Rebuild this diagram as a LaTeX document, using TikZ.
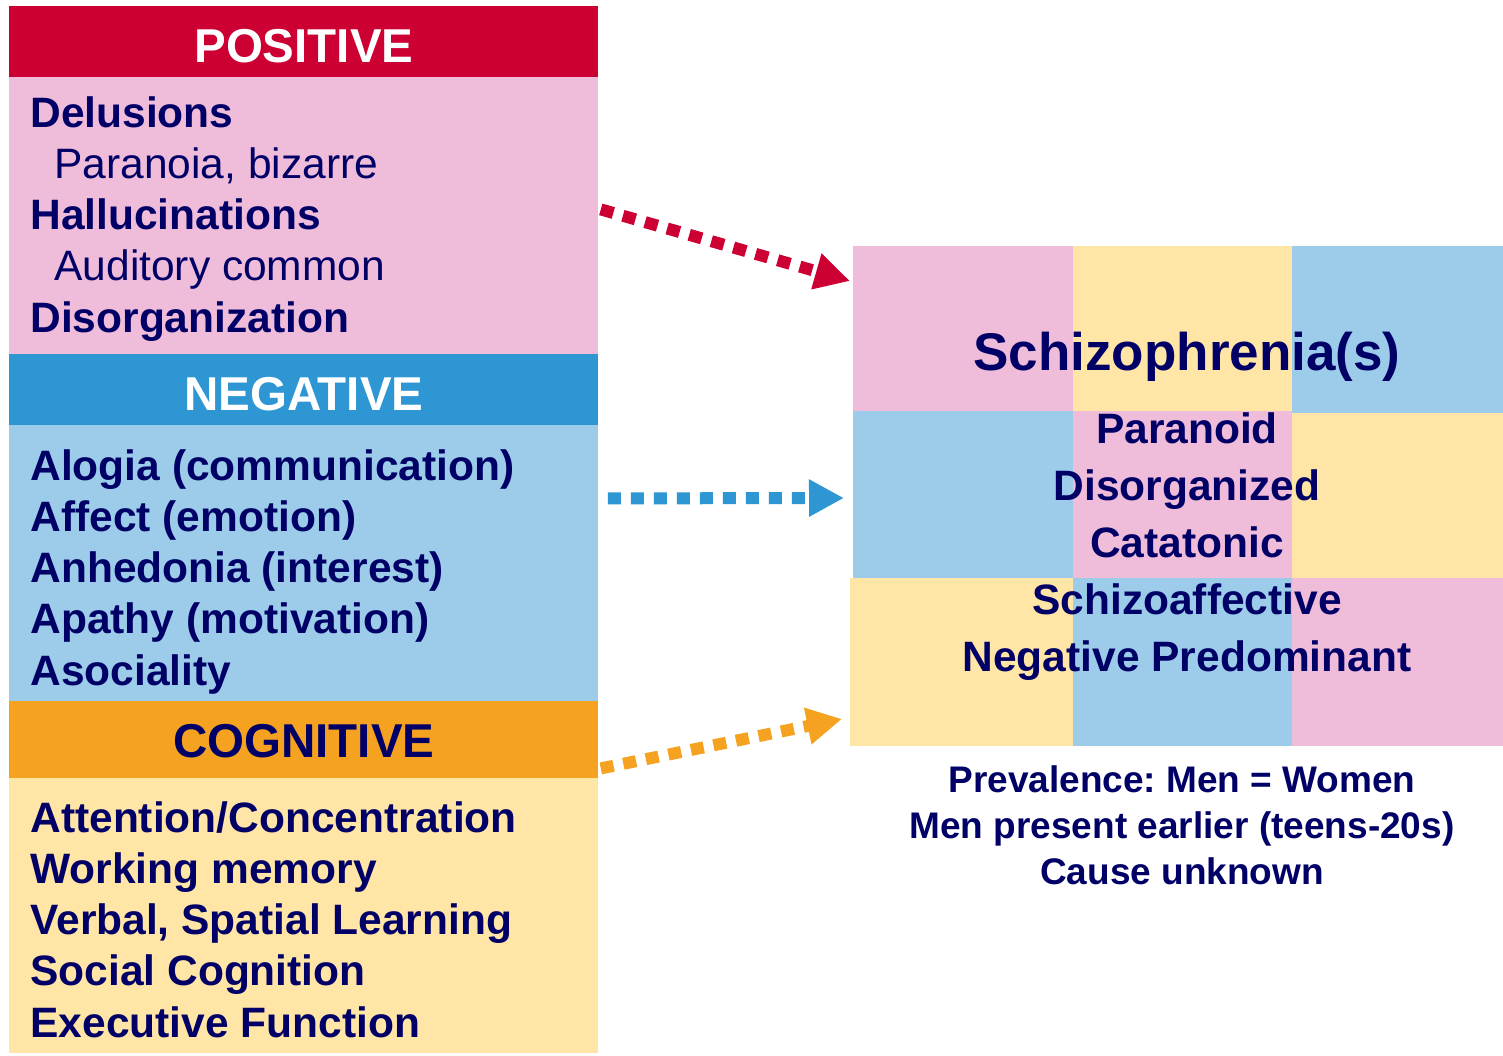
\documentclass[tikz,border=0pt]{standalone}
\usepackage{fontspec}
\setmainfont{Liberation Sans}
\usetikzlibrary{arrows.meta}
\definecolor{hdrred}{HTML}{CC0033}
\definecolor{lpink}{HTML}{EFBCD9}
\definecolor{hdrblue}{HTML}{2D96D3}
\definecolor{lblue}{HTML}{9CCCE9}
\definecolor{hdrorange}{HTML}{F5A221}
\definecolor{lcream}{HTML}{FFE5A6}
\definecolor{navy}{HTML}{000066}
\frenchspacing
\begin{document}
\begin{tikzpicture}[x=0.5pt,y=-0.5pt,every node/.style={font=\bfseries,text=navy,inner sep=0pt},
  band/.style={minimum width=294.5pt,anchor=north west},
  hdr/.style={band,font=\fontsize{23.75}{28}\selectfont\bfseries,text height=28.25pt},
  cell/.style={anchor=north west},
  item/.style={anchor=base west,align=left,font=\fontsize{21.25}{25.6}\selectfont\bfseries},
  dots/.style={line width=6pt,dash pattern=on 6.5pt off 5pt,-{Triangle[length=17.5pt,width=17.5pt]}}]
\useasboundingbox[fill=white] (0,0) rectangle (1503,1055);
% symptom groups
\node[band,fill=lpink,minimum height=138.5pt] (posbody) at (9,77) {};
\node[band,fill=lblue,minimum height=138.5pt] (negbody) at (9,425) {};
\node[band,fill=lcream,minimum height=137.5pt] (cogbody) at (9,778) {};
\node[hdr,fill=hdrred,text=white,text depth=7.25pt] (poshead) at (9,6) {POSITIVE};
\node[hdr,fill=hdrblue,text=white,text depth=7.25pt] (neghead) at (9,354) {NEGATIVE};
\node[hdr,fill=hdrorange,text depth=10.25pt] (coghead) at (9,701) {COGNITIVE};
% lists sit on the baseline of their last line
\node[item] (poslist) at (30,332) {Delusions\\\hspace*{12pt}{\mdseries Paranoia, bizarre}\\Hallucinations\\\hspace*{12pt}{\mdseries Auditory common}\\Disorganization};
\node[item] (neglist) at (30,685) {Alogia (communication)\\Affect (emotion)\\Anhedonia (interest)\\Apathy (motivation)\\Asociality};
\node[item] (coglist) at (30,1037) {Attention/Concentration\\Working memory\\Verbal, Spatial Learning\\Social Cognition\\Executive Function};
% patchwork behind the subtypes
\node[cell,fill=lpink,minimum width=110pt,minimum height=82.5pt] (c11) at (853,246) {};
\node[cell,fill=lcream,minimum width=109.5pt,minimum height=82.5pt] (c12) at (1073,246) {};
\node[cell,fill=lblue,minimum width=105.5pt,minimum height=83.5pt] (c13) at (1292,246) {};
\node[cell,fill=lblue,minimum width=110pt,minimum height=83.5pt] (c21) at (853,411) {};
\node[cell,fill=lpink,minimum width=109.5pt,minimum height=83.5pt] (c22) at (1073,411) {};
\node[cell,fill=lcream,minimum width=105.5pt,minimum height=82.5pt] (c23) at (1292,413) {};
\node[cell,fill=lcream,minimum width=111.5pt,minimum height=84pt] (c31) at (850,578) {};
\node[cell,fill=lblue,minimum width=109.5pt,minimum height=84pt] (c32) at (1073,578) {};
\node[cell,fill=lpink,minimum width=105.5pt,minimum height=84pt] (c33) at (1292,578) {};
\node[anchor=base,font=\fontsize{26.5}{30}\selectfont\bfseries] (title) at (1187,370) {Schizophrenia(s)};
\node[anchor=base,align=center,font=\fontsize{21.25}{28.5}\selectfont\bfseries] (types) at (1187,671) {Paranoid\\Disorganized\\Catatonic\\Schizoaffective\\Negative Predominant};
\node[anchor=base,align=center,font=\fontsize{18.5}{22.9}\selectfont\bfseries] (facts) at (1182,884) {Prevalence: Men = Women\\Men present earlier (teens-20s)\\Cause unknown};
% dotted arrows into the grid
\coordinate (posend) at (850,281);
\coordinate (negend) at (844,498);
\coordinate (cogend) at (842,719);
\draw[dots,hdrred] ([xshift=1pt,yshift=3.25pt]posbody.east) -- (posend);
\draw[dots,hdrblue] ([xshift=4.5pt,yshift=32.75pt]negbody.east) -- (negend);
\draw[dots,hdrorange] ([xshift=1pt,yshift=-14.25pt]coghead.east) -- (cogend);
\end{tikzpicture}
\end{document}
